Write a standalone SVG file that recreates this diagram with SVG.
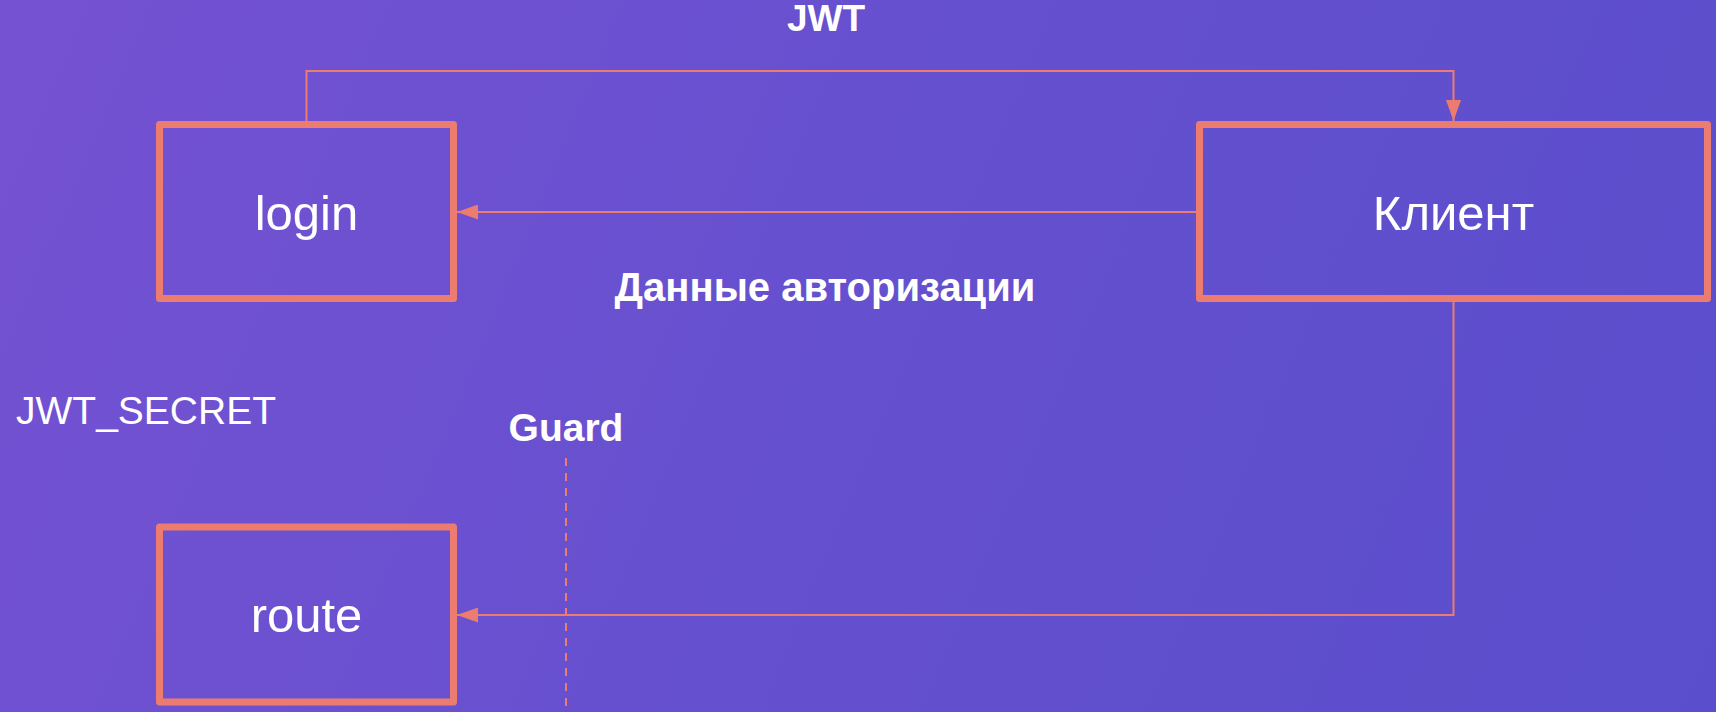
<svg xmlns="http://www.w3.org/2000/svg" width="1716" height="712" viewBox="0 0 1716 712">
  <defs>
    <linearGradient id="bg" x1="0" y1="0" x2="1716" y2="712" gradientUnits="userSpaceOnUse">
      <stop offset="0" stop-color="#7552d2"/>
      <stop offset="0.5" stop-color="#6550cf"/>
      <stop offset="1" stop-color="#5a4ecc"/>
    </linearGradient>
    <marker id="arrow" viewBox="0 0 21 15" refX="21" refY="7.5" markerWidth="21" markerHeight="15" markerUnits="userSpaceOnUse" orient="auto">
      <path d="M0,0 L21,7.5 L0,15 Z" fill="#ec7c70"/>
    </marker>
    <style>
      .box { fill: none; stroke: #ec7c70; stroke-width: 7; stroke-linejoin: round; }
      .conn { fill: none; stroke: #ec7c70; stroke-width: 2; }
      .dash { fill: none; stroke: #ec7c70; stroke-width: 2; stroke-dasharray: 8 7; }
      .node { font-family: "Liberation Sans", Arial, sans-serif; font-size: 49px; fill: #ffffff; text-anchor: middle; }
      .lbl { font-family: "Liberation Sans", Arial, sans-serif; font-weight: bold; fill: #ffffff; }
      .plain { font-family: "Liberation Sans", Arial, sans-serif; fill: #ffffff; }
    </style>
  </defs>
  <rect x="0" y="0" width="1716" height="712" fill="url(#bg)"/>

  <g id="connectors">
    <path class="conn" d="M306.5,121 V71 H1453.5 V121" marker-end="url(#arrow)"/>
    <path class="conn" d="M1196,212 H457" marker-end="url(#arrow)"/>
    <path class="conn" d="M1453.5,302 V615 H457" marker-end="url(#arrow)"/>
    <path class="dash" d="M566,458 V712"/>
  </g>

  <g id="login">
    <rect class="box" x="159.5" y="124.5" width="294" height="174"/>
    <text class="node" x="306.5" y="230">login</text>
  </g>

  <g id="client">
    <rect class="box" x="1199.5" y="124.5" width="508" height="174"/>
    <text class="node" x="1453.5" y="230">Клиент</text>
  </g>

  <g id="route">
    <rect class="box" x="159.5" y="527" width="294" height="175"/>
    <text class="node" x="306.5" y="632">route</text>
  </g>

  <g id="labels">
    <text class="lbl" x="826" y="31" font-size="37" text-anchor="middle">JWT</text>
    <text class="lbl" x="825" y="301" font-size="40" text-anchor="middle">Данные авторизации</text>
    <text class="lbl" x="566" y="441" font-size="39" text-anchor="middle">Guard</text>
    <text class="plain" x="16" y="424" font-size="39">JWT_SECRET</text>
  </g>
</svg>
